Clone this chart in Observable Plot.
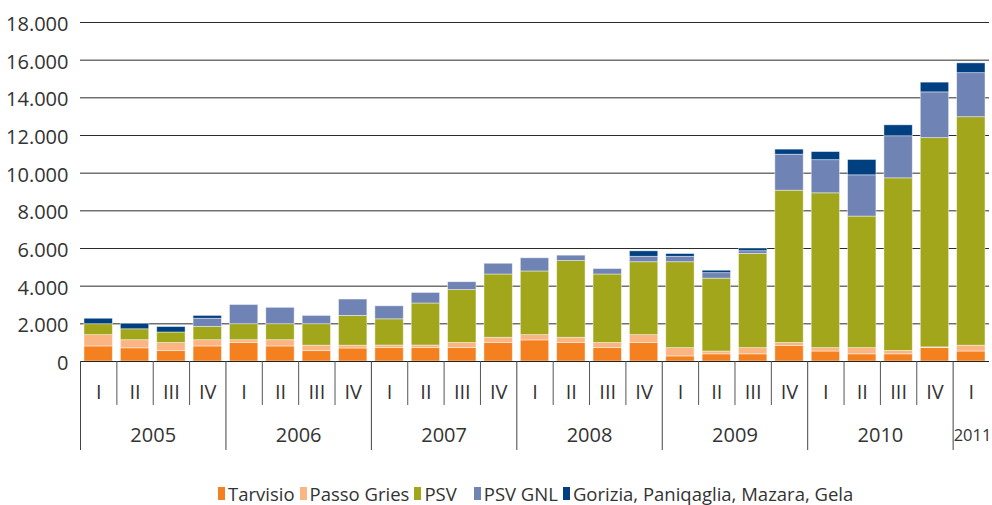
<!DOCTYPE html>
<html>
<head>
<meta charset="utf-8">
<script src="https://cdn.jsdelivr.net/npm/d3@7"></script>
<script src="https://cdn.jsdelivr.net/npm/@observablehq/plot@0.6"></script>
<style>
  body { margin: 0; background: #fff; font-family: "Open Sans", sans-serif; }
  #wrap { position: relative; width: 992px; height: 505px; overflow: hidden; }
  #legend { position: absolute; left: 218px; top: 481px; display: flex; align-items: center;
            font-family: "Open Sans", sans-serif; font-size: 18.5px; color: #333; white-space: nowrap; }
  #legend .item { display: flex; align-items: center; margin-right: 5px; }
  #legend .sw { width: 7px; height: 13px; margin-right: 3px; }
</style>
</head>
<body>
<div id="wrap"></div>
<script>
// ---- data ----
const years = ["2005", "2006", "2007", "2008", "2009", "2010", "2011"];
const quarterLabels = ["I","II","III","IV","I","II","III","IV","I","II","III","IV","I","II","III","IV","I","II","III","IV","I","II","III","IV","I"];
const seriesNames = ["Tarvisio", "Passo Gries", "PSV", "PSV GNL", "Gorizia, Paniqaglia, Mazara, Gela"];
const seriesColors = ["#f4801f", "#fab583", "#a2a61a", "#7083b5", "#003f80"];

const tarvisio   = [800, 700, 550, 800, 980, 800, 550, 690, 710, 710, 710, 980, 1120, 980, 710, 980, 270, 380, 380, 820, 530, 380, 380, 710, 530];
const passoGries = [600, 430, 430, 330, 150, 330, 290, 150, 140, 140, 270, 280, 280, 280, 270, 420, 440, 150, 330, 160, 180, 330, 180, 40, 310];
const psv        = [580, 580, 560, 710, 850, 850, 1140, 1580, 1390, 2230, 2810, 3360, 3380, 4070, 3640, 3870, 4560, 3870, 5000, 8090, 8220, 6985, 9165, 11110, 12130];
const psvGnl     = [0, 0, 0, 430, 1020, 870, 440, 870, 690, 560, 420, 570, 700, 290, 290, 290, 290, 290, 145, 1910, 1760, 2190, 2235, 2430, 2340];
const gorizia    = [290, 290, 290, 150, 0, 0, 0, 0, 0, 0, 0, 0, 0, 0, 0, 290, 145, 130, 145, 270, 430, 815, 580, 517, 520];
const yTicks = [0, 2000, 4000, 6000, 8000, 10000, 12000, 14000, 16000, 18000];

// ---- table for the library ----
const seriesValues = [tarvisio, passoGries, psv, psvGnl, gorizia];
const rows = [];
seriesValues.forEach((vals, s) => vals.forEach((v, i) => rows.push({i, series: seriesNames[s], value: v})));

const n = quarterLabels.length;
const yearStarts = years.map((y, k) => k * 4);
const quarterBounds = d3.range(1, n).filter(b => b % 4 !== 0);
const quarterMids = d3.range(n).map(i => i + 0.5);
const fullYears = years.filter((y, k) => k * 4 + 4 <= n);
const fullYearMids = fullYears.map((y, k) => k * 4 + 2);
const partialYears = years.filter((y, k) => k * 4 + 4 > n);
const partialYearStarts = partialYears.map(y => years.indexOf(y) * 4);
const fmt = d => d3.format(",")(d).replace(/,/g, ".");

const chart = Plot.plot({
  width: 992,
  height: 470,
  marginLeft: 80,
  marginRight: 3,
  marginTop: 22,
  marginBottom: 109,
  style: {fontFamily: "Open Sans, sans-serif", fontSize: "20px", color: "#333", background: "#fff"},
  x: {domain: [0, n], label: null},
  y: {domain: [0, 18000], label: null},
  color: {domain: seriesNames, range: seriesColors},
  marks: [
    Plot.gridY(yTicks, {stroke: "#2b2b2b", strokeOpacity: 1, strokeWidth: 1}),
    Plot.axisY(yTicks, {tickSize: 0, tickPadding: 12, tickFormat: fmt, fontSize: 20, fill: "#333", label: null, dy: 2}),
    Plot.rectY(rows, Plot.stackY({
      x1: "i", x2: d => d.i + 1, y: "value", fill: "series",
      insetLeft: 4, insetRight: 4,
      stroke: "#ffffff", strokeOpacity: 0.55, strokeWidth: 0.8
    })),
    Plot.ruleY([0], {stroke: "#222", strokeWidth: 1.2}),
    Plot.axisX(quarterBounds, {tickSize: 44, tickFormat: () => "", stroke: "#555", label: null}),
    Plot.axisX(yearStarts, {tickSize: 89, tickFormat: () => "", stroke: "#444", label: null}),
    Plot.axisX(quarterMids, {tickSize: 0, tickPadding: 23, tickFormat: d => quarterLabels[Math.floor(d)], fontSize: 20, fill: "#333", label: null}),
    Plot.axisX(fullYearMids, {tickSize: 0, tickPadding: 66, tickFormat: d => fullYears[fullYearMids.indexOf(d)], fontSize: 20, fill: "#333", label: null}),
    Plot.axisX(partialYearStarts, {tickSize: 0, tickPadding: 68, tickFormat: d => partialYears[partialYearStarts.indexOf(d)], textAnchor: "start", dx: 0.5, fontSize: 16.5, fill: "#333", label: null})
  ]
});

const wrap = document.getElementById("wrap");
wrap.appendChild(chart);

// ---- legend ----
const legend = document.createElement("div");
legend.id = "legend";
seriesNames.forEach((name, k) => {
  const item = document.createElement("div");
  item.className = "item";
  if (k === 2) item.style.marginRight = "17px";
  const sw = document.createElement("span");
  sw.className = "sw";
  sw.style.background = seriesColors[k];
  const tx = document.createElement("span");
  tx.textContent = name;
  item.appendChild(sw);
  item.appendChild(tx);
  legend.appendChild(item);
});
wrap.appendChild(legend);
</script>
</body>
</html>
